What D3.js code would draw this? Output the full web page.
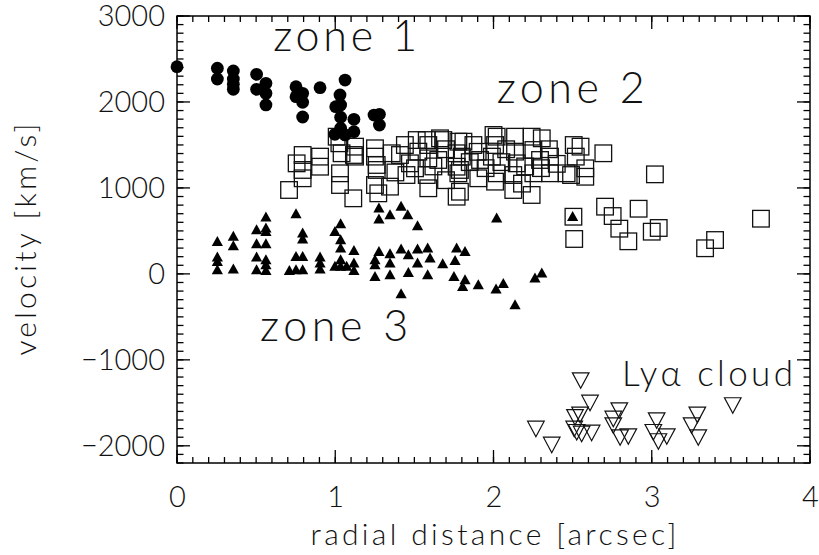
<!DOCTYPE html>
<html>
<head>
<meta charset="utf-8">
<script src="https://cdn.jsdelivr.net/npm/d3@7"></script>
<style>
  body { margin: 0; background: #fff; }
  svg { font-family: "Lato", "Open Sans", "DejaVu Sans", sans-serif; font-weight: 300; }
  svg text { fill: #111; }
</style>
</head>
<body>
<div id="chart"></div>
<script>
// data: [radial distance (arcsec), velocity (km/s)]
var zone1 = [[0.0,2410],[0.255,2392],[0.255,2267],[0.356,2360],[0.356,2267],[0.356,2205],[0.356,2147],
  [0.503,2322],[0.503,2147],[0.562,2217],[0.562,2100],[0.562,1965],[0.752,2178],[0.752,2061],
  [0.794,2100],[0.794,1996],[0.794,1825],[0.904,2166],[1.062,2255],[1.03,2081],[1.003,1945],
  [1.034,1965],[1.034,1822],[1.034,1694],[0.998,1624],[1.062,1616],[1.118,1798],[1.118,1654],
  [1.245,1848],[1.279,1856],[1.279,1732]];

var zone2 = [[0.708,976],[0.756,1286],[0.794,1383],[0.794,1209],[0.794,1112],[0.904,1364],[0.904,1247],
  [1.026,1519],[1.04,1403],[1.125,1480],[1.125,1364],[1.03,1170],[1.03,1034],[1.114,879],[1.009,1596],
  [1.118,1383],[1.251,1461],[1.251,1364],[1.262,1209],[1.251,1034],[1.272,937],[1.262,1267],
  [1.346,1015],[1.357,1403],[1.409,1383],[1.44,1499],[1.472,1286],[1.515,1557],[1.525,1422],
  [1.504,1228],[1.588,1499],[1.588,1344],[1.578,1150],[1.588,996],[1.578,1557],[1.45,1150],[1.38,1180],
  [1.662,1577],[1.651,1325],[1.683,1557],[1.778,1538],[1.81,1538],[1.767,1403],[1.767,1247],
  [1.778,1170],[1.767,898],[1.788,1209],[1.788,956],[1.8,1364],[1.62,1250],[1.7,1450],[1.7,1090],
  [1.873,1499],[1.915,1325],[1.904,1112],[2.0,1616],[2.01,1499],[1.99,1364],[2.02,1170],[2.01,1073],
  [2.02,1596],[1.85,1300],[1.95,1230],[1.9,1420],[2.05,1300],[2.08,1450],
  [2.136,1596],[2.136,1422],[2.147,1286],[2.125,1150],[2.125,976],[2.241,1596],[2.305,1577],
  [2.252,1441],[2.294,1325],[2.252,1170],[2.241,918],[2.357,1364],[2.357,1170],[2.462,1170],
  [2.2,1250],[2.3,1230],[2.18,1050],[2.35,1450],[2.4,1280],
  [2.507,1499],[2.55,1480],[2.52,1364],[2.49,1150],[2.58,1130],[2.58,1228],
  [2.694,1403],[3.02,1158],[2.705,782],[2.753,673],[2.795,526],[2.852,379],[2.917,758],[3.0,491],
  [3.044,534],[3.337,298],[3.40,394],[3.69,642],[2.51,406],[2.505,665]];

var zone3 = [[0.255,374],[0.255,192],[0.255,142],[0.255,45],[0.356,433],[0.356,324],[0.356,53],
  [0.503,511],[0.503,348],[0.503,192],[0.503,45],[0.562,658],[0.562,530],[0.562,491],[0.562,348],
  [0.562,162],[0.562,104],[0.562,37],[0.752,697],[0.794,472],[0.794,402],[0.752,200],[0.794,200],
  [0.71,37],[0.752,45],[0.794,45],[0.904,192],[0.904,123],[0.904,53],[0.998,491],[1.034,580],
  [1.034,394],[1.034,297],[1.034,162],[0.998,84],[1.034,84],[1.072,84],[1.118,270],[1.118,123],
  [1.118,37],[1.276,763],[1.276,635],[1.346,685],[1.416,782],[1.458,685],[1.52,557],[2.02,647],
  [1.276,258],[1.251,162],[1.251,104],[1.346,231],[1.346,123],[1.416,286],[1.462,220],[1.52,286],
  [1.52,123],[1.584,297],[1.599,181],[1.679,115],[1.767,297],[1.82,258],[1.757,152],
  [1.251,-33],[1.346,-13],[1.462,14],[1.584,-13],[1.75,-33],[1.82,-71],[1.805,-149],[1.904,-129],
  [2.016,-180],[2.062,-114],[1.416,-234],[2.136,-362],[2.262,-50],[2.305,8],[2.5,665]];

var lyaCloud = [[2.551,-1215],[2.61,-1475],[2.515,-1642],[2.547,-1614],[2.51,-1778],[2.526,-1816],
  [2.557,-1836],[2.62,-1824],[2.268,-1778],[2.368,-1964],[2.795,-1564],[2.757,-1661],[2.757,-1738],
  [2.8,-1878],[2.852,-1866],[3.031,-1680],[3.01,-1816],[3.042,-1924],[3.095,-1866],[3.288,-1614],
  [3.252,-1738],[3.294,-1878],[3.512,-1505]];

var xTicks = [0, 1, 2, 3, 4];
var yTicks = [-2000, -1000, 0, 1000, 2000, 3000];
var labels = [
  {text: "zone 1", r: 0.608, v: 2590, w: 144, size: 43},
  {text: "zone 2", r: 2.02, v: 1985, w: 148, size: 43},
  {text: "zone 3", r: 0.525, v: -775, w: 148, size: 43},
  {text: "Ly\u03b1 cloud", r: 2.812, v: -1310, w: 171, size: 35}
];

var width = 819, height = 555;
var margin = {top: 16, right: 9, bottom: 92, left: 177};

var svg = d3.select("#chart").append("svg")
  .attr("width", width)
  .attr("height", height);

var x = d3.scaleLinear().domain([0, 4]).range([margin.left, width - margin.right]);
var y = d3.scaleLinear().domain([-2200, 3000]).range([height - margin.bottom, margin.top]);

var xMinor = d3.range(0, 40.5).map(function(d) { return d / 10; });
var yMinor = d3.range(-22, 30.5).map(function(d) { return d * 100; });

var yBot = y.range()[0], yTop = y.range()[1], xLeft = x.range()[0], xRight = x.range()[1];

// frame
svg.append("rect")
  .attr("x", xLeft).attr("y", yTop)
  .attr("width", xRight - xLeft)
  .attr("height", yBot - yTop)
  .attr("fill", "none").attr("stroke", "#000").attr("stroke-width", 1.5);

// inward tick marks on all four sides
var tickG = svg.append("g").attr("stroke", "#000").attr("stroke-width", 1.3);
function xTickMarks(values, len) {
  tickG.selectAll(null).data(values).enter().append("line")
    .attr("x1", function(d) { return x(d); }).attr("x2", function(d) { return x(d); })
    .attr("y1", yBot).attr("y2", yBot - len);
  tickG.selectAll(null).data(values).enter().append("line")
    .attr("x1", function(d) { return x(d); }).attr("x2", function(d) { return x(d); })
    .attr("y1", yTop).attr("y2", yTop + len);
}
function yTickMarks(values, len) {
  tickG.selectAll(null).data(values).enter().append("line")
    .attr("y1", function(d) { return y(d); }).attr("y2", function(d) { return y(d); })
    .attr("x1", xLeft).attr("x2", xLeft + len);
  tickG.selectAll(null).data(values).enter().append("line")
    .attr("y1", function(d) { return y(d); }).attr("y2", function(d) { return y(d); })
    .attr("x1", xRight).attr("x2", xRight - len);
}
xTickMarks(xMinor, 6);
xTickMarks(xTicks, 13);
yTickMarks(yMinor, 6.5);
yTickMarks(yTicks, 13);

function cleanAxis(g) {
  g.attr("font-family", null).attr("font-size", null);
  g.select(".domain").remove();
  g.selectAll(".tick line").remove();
}

// tick labels
var xAx = svg.append("g").attr("transform", "translate(0," + yBot + ")")
  .call(d3.axisBottom(x).tickValues(xTicks).tickSize(0).tickPadding(23).tickFormat(d3.format("d")))
  .call(cleanAxis);
xAx.selectAll("text").attr("font-size", 29);

var yAx = svg.append("g").attr("transform", "translate(" + xLeft + ",0)")
  .call(d3.axisLeft(y).tickValues(yTicks).tickSize(0).tickPadding(12).tickFormat(d3.format("d")))
  .call(cleanAxis);
yAx.selectAll("text").attr("font-size", 29);

var plot = svg.append("g");

// zone 2: open squares
plot.selectAll(".sq").data(zone2).enter().append("rect")
  .attr("class", "sq")
  .attr("x", function(d) { return x(d[0]) - 8.3; })
  .attr("y", function(d) { return y(d[1]) - 8.3; })
  .attr("width", 16.6).attr("height", 16.6)
  .attr("fill", "none").attr("stroke", "#111").attr("stroke-width", 1.3);

// zone 1: filled circles
plot.selectAll(".ci").data(zone1).enter().append("circle")
  .attr("class", "ci")
  .attr("cx", function(d) { return x(d[0]); })
  .attr("cy", function(d) { return y(d[1]); })
  .attr("r", 6.4)
  .attr("fill", "#000");

// zone 3: filled triangles
plot.selectAll(".tu").data(zone3).enter().append("path")
  .attr("class", "tu")
  .attr("transform", function(d) { return "translate(" + x(d[0]) + "," + y(d[1]) + ")"; })
  .attr("d", "M0,-5.8L5.6,4.2L-5.6,4.2Z")
  .attr("fill", "#000");

// Ly alpha cloud: open down triangles
plot.selectAll(".td").data(lyaCloud).enter().append("path")
  .attr("class", "td")
  .attr("transform", function(d) { return "translate(" + x(d[0]) + "," + y(d[1]) + ")"; })
  .attr("d", "M-8.3,-5.5L8.3,-5.5L0,10Z")
  .attr("fill", "none").attr("stroke", "#111").attr("stroke-width", 1.2);

// labels
svg.selectAll(".lab").data(labels).enter().append("text")
  .attr("class", "lab")
  .attr("x", function(d) { return x(d.r); })
  .attr("y", function(d) { return y(d.v); })
  .attr("font-size", function(d) { return d.size; })
  .attr("textLength", function(d) { return d.w; })
  .attr("lengthAdjust", "spacing")
  .text(function(d) { return d.text; });

// axis titles
svg.append("text")
  .attr("x", (xLeft + xRight) / 2)
  .attr("y", 545)
  .attr("text-anchor", "middle")
  .attr("font-size", 30)
  .attr("textLength", 366).attr("lengthAdjust", "spacing")
  .text("radial distance [arcsec]");

svg.append("text")
  .attr("transform", "translate(36," + (yBot + yTop) / 2 + ") rotate(-90)")
  .attr("text-anchor", "middle")
  .attr("font-size", 30)
  .attr("textLength", 232).attr("lengthAdjust", "spacing")
  .text("velocity [km/s]");
</script>
</body>
</html>
